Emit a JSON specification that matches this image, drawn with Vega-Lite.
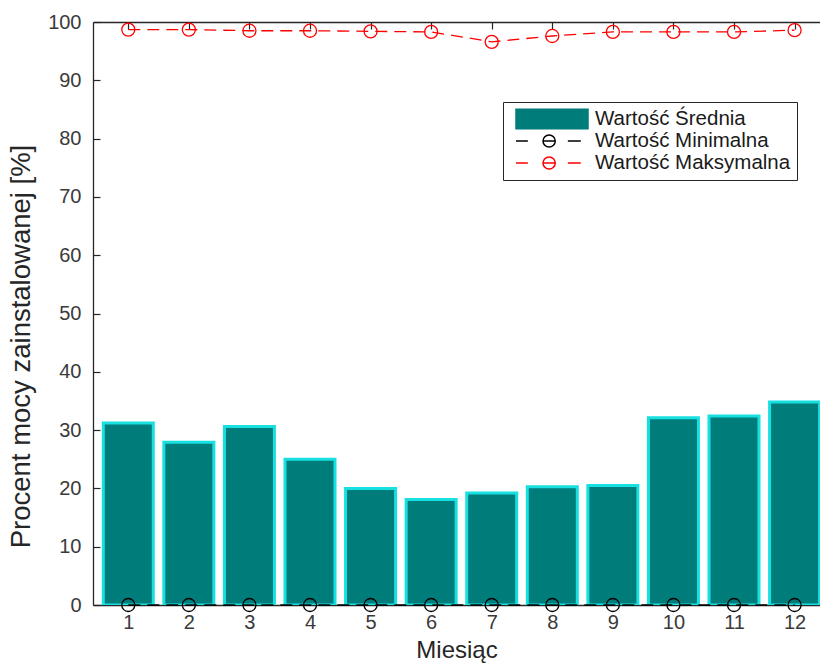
{
  "$schema": "https://vega.github.io/schema/vega-lite/v6.json",
  "autosize": {"type": "none"},
  "padding": {"left": 93, "top": 22, "right": 0, "bottom": 61},
  "width": 727,
  "height": 583,
  "background": "white",
  "config": {
    "view": {"stroke": null},
    "font": "Liberation Sans",
    "axis": {
      "domainColor": "#262626",
      "tickColor": "#262626",
      "labelColor": "#3a3a3a",
      "titleColor": "#262626",
      "labelFont": "Liberation Sans",
      "titleFont": "Liberation Sans",
      "labelFontSize": 20,
      "titleFontSize": 24,
      "titleFontWeight": "normal",
      "grid": false,
      "tickSize": -7,
      "domainWidth": 1.3,
      "tickWidth": 1.2
    },
    "axisY": {"titleFontSize": 27.5}
  },
  "data": {
    "values": [
      {"miesiac": 1, "srednia": 31.2, "minimalna": 0, "maksymalna": 98.7},
      {"miesiac": 2, "srednia": 27.9, "minimalna": 0, "maksymalna": 98.7},
      {"miesiac": 3, "srednia": 30.6, "minimalna": 0, "maksymalna": 98.5},
      {"miesiac": 4, "srednia": 25.0, "minimalna": 0, "maksymalna": 98.5},
      {"miesiac": 5, "srednia": 20.0, "minimalna": 0, "maksymalna": 98.4},
      {"miesiac": 6, "srednia": 18.1, "minimalna": 0, "maksymalna": 98.3},
      {"miesiac": 7, "srednia": 19.2, "minimalna": 0, "maksymalna": 96.6},
      {"miesiac": 8, "srednia": 20.3, "minimalna": 0, "maksymalna": 97.6},
      {"miesiac": 9, "srednia": 20.5, "minimalna": 0, "maksymalna": 98.3},
      {"miesiac": 10, "srednia": 32.1, "minimalna": 0, "maksymalna": 98.3},
      {"miesiac": 11, "srednia": 32.4, "minimalna": 0, "maksymalna": 98.3},
      {"miesiac": 12, "srednia": 34.8, "minimalna": 0, "maksymalna": 98.6}
    ]
  },
  "layer": [
    {
      "mark": {"type": "bar", "size": 50, "stroke": "#17e0e0", "strokeWidth": 3, "clip": true},
      "encoding": {
        "x": {
          "field": "miesiac", "type": "quantitative",
          "scale": {"domain": [0.5, 12.337], "nice": false, "zero": false},
          "axis": {"orient": "bottom", "values": [1,2,3,4,5,6,7,8,9,10,11,12], "title": "Miesiąc", "labelPadding": 14, "titlePadding": 6}
        },
        "y": {
          "field": "srednia", "type": "quantitative",
          "scale": {"domain": [0, 100], "nice": false},
          "axis": {"values": [0,10,20,30,40,50,60,70,80,90,100], "title": "Procent mocy zainstalowanej [%]", "labelPadding": 19, "titlePadding": 12, "titleY": 324}
        },
        "color": {
          "datum": "Wartość Średnia", "type": "nominal",
          "scale": {"domain": ["Wartość Średnia", "Wartość Minimalna", "Wartość Maksymalna"], "range": ["#007c7b", "#000000", "#ff0000"]},
          "legend": {
            "orient": "none", "legendX": 410, "legendY": 80, "title": null,
            "strokeColor": "#262626", "fillColor": "white", "padding": 6,
            "symbolOffset": 6, "labelOffset": 6, "symbolSize": 5184, "clipHeight": 22, "rowPadding": 0,
            "labelFontSize": 20.5, "labelFont": "Liberation Sans", "labelColor": "#1a1a1a", "labelLimit": 400,
            "encode": {"symbols": {"update": {
              "shape": {"signal": "datum.value == 'Wartość Średnia' ? 'M-1,-0.27H1V0.27H-1Z' : 'M-1,0H-0.67M0.44,0H0.8M-0.25,0A0.17,0.17 0 1 1 0.09,0A0.17,0.17 0 1 1 -0.25,0M-0.25,0H0.09'"},
              "fillOpacity": {"signal": "datum.value == 'Wartość Średnia' ? 1 : 0"},
              "strokeWidth": {"value": 1.5},
              "size": {"value": 5184}
            }}}
          }
        }
      }
    },
    {
      "mark": {"type": "line", "strokeDash": [12, 7], "strokeWidth": 1.3},
      "encoding": {
        "x": {"field": "miesiac", "type": "quantitative", "axis": null},
        "y": {"field": "minimalna", "type": "quantitative", "axis": {"values": [0,10,20,30,40,50,60,70,80,90,100], "title": "Procent mocy zainstalowanej [%]", "labelPadding": 19, "titlePadding": 12, "titleY": 324}},
        "color": {
          "datum": "Wartość Minimalna", "type": "nominal",
          "legend": {
            "orient": "none", "legendX": 410, "legendY": 80, "title": null,
            "strokeColor": "#262626", "fillColor": "white", "padding": 6,
            "symbolOffset": 6, "labelOffset": 6, "symbolSize": 5184, "clipHeight": 22, "rowPadding": 0,
            "labelFontSize": 20.5, "labelFont": "Liberation Sans", "labelColor": "#1a1a1a", "labelLimit": 400,
            "encode": {"symbols": {"update": {
              "shape": {"signal": "datum.value == 'Wartość Średnia' ? 'M-1,-0.27H1V0.27H-1Z' : 'M-1,0H-0.67M0.44,0H0.8M-0.25,0A0.17,0.17 0 1 1 0.09,0A0.17,0.17 0 1 1 -0.25,0M-0.25,0H0.09'"},
              "fillOpacity": {"signal": "datum.value == 'Wartość Średnia' ? 1 : 0"},
              "strokeWidth": {"value": 1.5},
              "size": {"value": 5184}
            }}}
          }
        }
      }
    },
    {
      "mark": {"type": "point", "filled": false, "size": 170, "strokeWidth": 1.3, "opacity": 1},
      "encoding": {
        "x": {"field": "miesiac", "type": "quantitative", "axis": null},
        "y": {"field": "minimalna", "type": "quantitative", "axis": {"values": [0,10,20,30,40,50,60,70,80,90,100], "title": "Procent mocy zainstalowanej [%]", "labelPadding": 19, "titlePadding": 12, "titleY": 324}},
        "color": {
          "datum": "Wartość Minimalna", "type": "nominal",
          "legend": {
            "orient": "none", "legendX": 410, "legendY": 80, "title": null,
            "strokeColor": "#262626", "fillColor": "white", "padding": 6,
            "symbolOffset": 6, "labelOffset": 6, "symbolSize": 5184, "clipHeight": 22, "rowPadding": 0,
            "labelFontSize": 20.5, "labelFont": "Liberation Sans", "labelColor": "#1a1a1a", "labelLimit": 400,
            "encode": {"symbols": {"update": {
              "shape": {"signal": "datum.value == 'Wartość Średnia' ? 'M-1,-0.27H1V0.27H-1Z' : 'M-1,0H-0.67M0.44,0H0.8M-0.25,0A0.17,0.17 0 1 1 0.09,0A0.17,0.17 0 1 1 -0.25,0M-0.25,0H0.09'"},
              "fillOpacity": {"signal": "datum.value == 'Wartość Średnia' ? 1 : 0"},
              "strokeWidth": {"value": 1.5},
              "size": {"value": 5184}
            }}}
          }
        }
      }
    },
    {
      "mark": {"type": "line", "strokeDash": [12, 7], "strokeWidth": 1.3},
      "encoding": {
        "x": {"field": "miesiac", "type": "quantitative", "axis": {"orient": "top", "values": [1,2,3,4,5,6,7,8,9,10,11,12], "labels": false, "title": null}},
        "y": {"field": "maksymalna", "type": "quantitative", "axis": {"values": [0,10,20,30,40,50,60,70,80,90,100], "title": "Procent mocy zainstalowanej [%]", "labelPadding": 19, "titlePadding": 12, "titleY": 324}},
        "color": {
          "datum": "Wartość Maksymalna", "type": "nominal",
          "legend": {
            "orient": "none", "legendX": 410, "legendY": 80, "title": null,
            "strokeColor": "#262626", "fillColor": "white", "padding": 6,
            "symbolOffset": 6, "labelOffset": 6, "symbolSize": 5184, "clipHeight": 22, "rowPadding": 0,
            "labelFontSize": 20.5, "labelFont": "Liberation Sans", "labelColor": "#1a1a1a", "labelLimit": 400,
            "encode": {"symbols": {"update": {
              "shape": {"signal": "datum.value == 'Wartość Średnia' ? 'M-1,-0.27H1V0.27H-1Z' : 'M-1,0H-0.67M0.44,0H0.8M-0.25,0A0.17,0.17 0 1 1 0.09,0A0.17,0.17 0 1 1 -0.25,0M-0.25,0H0.09'"},
              "fillOpacity": {"signal": "datum.value == 'Wartość Średnia' ? 1 : 0"},
              "strokeWidth": {"value": 1.5},
              "size": {"value": 5184}
            }}}
          }
        }
      }
    },
    {
      "mark": {"type": "point", "filled": false, "size": 170, "strokeWidth": 1.3, "opacity": 1},
      "encoding": {
        "x": {"field": "miesiac", "type": "quantitative", "axis": null},
        "y": {"field": "maksymalna", "type": "quantitative", "axis": {"values": [0,10,20,30,40,50,60,70,80,90,100], "title": "Procent mocy zainstalowanej [%]", "labelPadding": 19, "titlePadding": 12, "titleY": 324}},
        "color": {
          "datum": "Wartość Maksymalna", "type": "nominal",
          "legend": {
            "orient": "none", "legendX": 410, "legendY": 80, "title": null,
            "strokeColor": "#262626", "fillColor": "white", "padding": 6,
            "symbolOffset": 6, "labelOffset": 6, "symbolSize": 5184, "clipHeight": 22, "rowPadding": 0,
            "labelFontSize": 20.5, "labelFont": "Liberation Sans", "labelColor": "#1a1a1a", "labelLimit": 400,
            "encode": {"symbols": {"update": {
              "shape": {"signal": "datum.value == 'Wartość Średnia' ? 'M-1,-0.27H1V0.27H-1Z' : 'M-1,0H-0.67M0.44,0H0.8M-0.25,0A0.17,0.17 0 1 1 0.09,0A0.17,0.17 0 1 1 -0.25,0M-0.25,0H0.09'"},
              "fillOpacity": {"signal": "datum.value == 'Wartość Średnia' ? 1 : 0"},
              "strokeWidth": {"value": 1.5},
              "size": {"value": 5184}
            }}}
          }
        }
      }
    }
  ],
  "resolve": {"axis": {"x": "independent"}}
}
